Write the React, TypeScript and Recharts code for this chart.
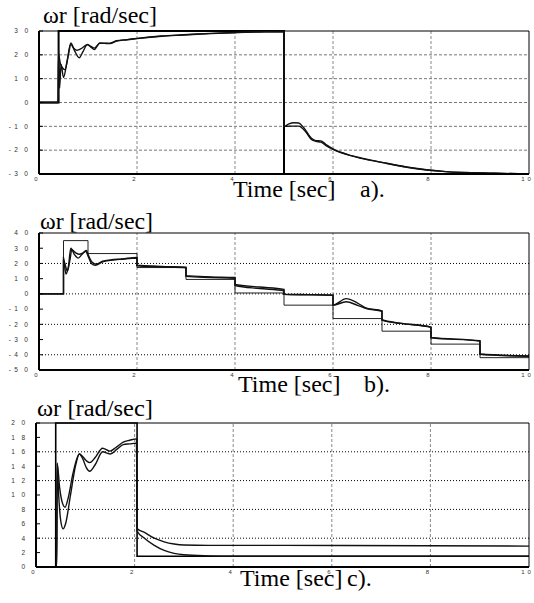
import React from "react";
import { LineChart, Line, XAxis, YAxis, ReferenceLine } from "recharts";

// shared time axis
const timeTicks = [0, 2, 4, 6, 8, 10];
const timeGrid = [2, 4, 6, 8];

// a) speed reversal
const aTicks = [-30, -20, -10, 0, 10, 20, 30];
const aGrid = [-20, -10, 0, 10, 20];
const aRef = [
  { t: 0, w: 0 }, { t: 0.4, w: 0 }, { t: 0.4, w: 30 }, { t: 5.0, w: 30 },
  { t: 5.0, w: -30 }, { t: 10, w: -30 },
];
const aResp1 = [
  { t: 0, w: 0 }, { t: 0.39, w: 0 }, { t: 0.4, w: 22 }, { t: 0.42, w: 6 },
  { t: 0.45, w: 16 }, { t: 0.5, w: 10.5 }, { t: 0.57, w: 17 }, { t: 0.65, w: 25 },
  { t: 0.72, w: 22 }, { t: 0.82, w: 18.8 }, { t: 0.9, w: 21.5 }, { t: 0.99, w: 24.4 },
  { t: 1.06, w: 23.2 }, { t: 1.13, w: 22.2 }, { t: 1.24, w: 25 }, { t: 1.35, w: 24.8 },
  { t: 1.45, w: 24.7 }, { t: 1.58, w: 25.8 }, { t: 1.8, w: 26.3 }, { t: 2.0, w: 26.8 },
  { t: 2.5, w: 27.8 }, { t: 2.95, w: 28.3 }, { t: 3.5, w: 28.9 }, { t: 4.0, w: 29.3 },
  { t: 4.5, w: 29.6 }, { t: 5.0, w: 29.8 }, { t: 5.0, w: -10 }, { t: 5.15, w: -9.9 },
  { t: 5.3, w: -9.9 }, { t: 5.45, w: -12.5 }, { t: 5.56, w: -15.5 }, { t: 5.65, w: -16.3 },
  { t: 5.75, w: -16.6 }, { t: 5.85, w: -18 }, { t: 6.0, w: -19.7 }, { t: 6.4, w: -22.5 },
  { t: 6.75, w: -24.2 }, { t: 7.1, w: -25.6 }, { t: 7.57, w: -27.4 }, { t: 8.3, w: -29 },
  { t: 9.3, w: -29.7 }, { t: 10, w: -30 },
];
const aResp2 = [
  { t: 0, w: 0 }, { t: 0.39, w: 0 }, { t: 0.4, w: 20 }, { t: 0.44, w: 16 },
  { t: 0.53, w: 13.8 }, { t: 0.6, w: 20 }, { t: 0.65, w: 24.5 }, { t: 0.7, w: 23 },
  { t: 0.77, w: 21.9 }, { t: 0.85, w: 22.5 }, { t: 0.99, w: 24.2 }, { t: 1.06, w: 23.5 },
  { t: 1.13, w: 22.8 }, { t: 1.24, w: 24.8 }, { t: 1.35, w: 24.9 }, { t: 1.45, w: 24.9 },
  { t: 1.58, w: 25.9 }, { t: 1.8, w: 26.4 }, { t: 2.0, w: 26.9 }, { t: 2.5, w: 27.9 },
  { t: 2.95, w: 28.4 }, { t: 3.5, w: 29 }, { t: 4.0, w: 29.4 }, { t: 4.5, w: 29.7 },
  { t: 5.0, w: 29.8 }, { t: 5.0, w: -10 }, { t: 5.1, w: -9 }, { t: 5.2, w: -8.5 },
  { t: 5.3, w: -8.6 }, { t: 5.4, w: -10.5 }, { t: 5.56, w: -15 }, { t: 5.65, w: -16 },
  { t: 5.75, w: -16.1 }, { t: 5.85, w: -17.5 }, { t: 6.0, w: -19.5 }, { t: 6.4, w: -22.4 },
  { t: 6.75, w: -24.1 }, { t: 7.1, w: -25.5 }, { t: 7.57, w: -27.3 }, { t: 8.3, w: -29 },
  { t: 9.3, w: -29.7 }, { t: 10, w: -30 },
];

// b) staircase command
const bTicks = [-50, -40, -30, -20, -10, 0, 10, 20, 30, 40];
const bGrid = [-40, -20, 0, 20];
const bRef = [
  { t: 0, w: 0 }, { t: 0.5, w: 0 }, { t: 0.5, w: 35 }, { t: 1.0, w: 35 },
  { t: 1.0, w: 26.5 }, { t: 2.0, w: 26.5 }, { t: 2.0, w: 17.3 }, { t: 3.0, w: 17.3 },
  { t: 3.0, w: 9.5 }, { t: 4.0, w: 9.5 }, { t: 4.0, w: 0.6 }, { t: 5.0, w: 0.6 },
  { t: 5.0, w: -7.4 }, { t: 6.0, w: -7.4 }, { t: 6.0, w: -16.2 }, { t: 7.0, w: -16.2 },
  { t: 7.0, w: -24.5 }, { t: 8.0, w: -24.5 }, { t: 8.0, w: -33 }, { t: 9.0, w: -33 },
  { t: 9.0, w: -41.9 }, { t: 10, w: -41.9 },
];
const bResp1 = [
  { t: 0, w: 0 }, { t: 0.5, w: 0 }, { t: 0.5, w: 24 }, { t: 0.55, w: 13 },
  { t: 0.6, w: 18 }, { t: 0.65, w: 30 }, { t: 0.72, w: 26 }, { t: 0.8, w: 23.5 },
  { t: 0.88, w: 26 }, { t: 0.95, w: 28 }, { t: 1.0, w: 25 }, { t: 1.07, w: 20 },
  { t: 1.15, w: 18.8 }, { t: 1.3, w: 21 }, { t: 1.46, w: 22 }, { t: 1.7, w: 22.8 },
  { t: 2.0, w: 23.5 }, { t: 2.0, w: 18.5 }, { t: 2.5, w: 17.8 }, { t: 3.0, w: 17.2 },
  { t: 3.0, w: 11.5 }, { t: 3.5, w: 10.8 }, { t: 4.0, w: 10.3 }, { t: 4.0, w: 5.5 },
  { t: 4.5, w: 3.5 }, { t: 5.0, w: 2 }, { t: 5.0, w: -0.3 }, { t: 5.5, w: -0.6 },
  { t: 6.0, w: -0.9 }, { t: 6.0, w: -7.4 }, { t: 6.27, w: -5.2 }, { t: 6.5, w: -7.5 },
  { t: 6.68, w: -9.6 }, { t: 7.0, w: -11.4 }, { t: 7.0, w: -17.2 }, { t: 7.37, w: -19.4 },
  { t: 8.0, w: -22 }, { t: 8.0, w: -28.8 }, { t: 9.0, w: -31 }, { t: 9.0, w: -39.7 },
  { t: 10, w: -41 },
];
const bResp2 = [
  { t: 0, w: 0 }, { t: 0.5, w: 0 }, { t: 0.5, w: 22 }, { t: 0.58, w: 15 },
  { t: 0.63, w: 22 }, { t: 0.67, w: 29 }, { t: 0.75, w: 27 }, { t: 0.82, w: 26 },
  { t: 0.9, w: 27 }, { t: 0.97, w: 28.5 }, { t: 1.0, w: 26 }, { t: 1.08, w: 21 },
  { t: 1.17, w: 19.5 }, { t: 1.3, w: 21.5 }, { t: 1.46, w: 22.3 }, { t: 1.7, w: 23 },
  { t: 2.0, w: 24 }, { t: 2.0, w: 18.8 }, { t: 2.5, w: 18 }, { t: 3.0, w: 17.5 },
  { t: 3.0, w: 12 }, { t: 3.5, w: 11.2 }, { t: 4.0, w: 10.8 }, { t: 4.0, w: 6.2 },
  { t: 4.5, w: 4.5 }, { t: 5.0, w: 3 }, { t: 5.0, w: -0.2 }, { t: 5.5, w: -0.5 },
  { t: 6.0, w: -0.8 }, { t: 6.0, w: -7.4 }, { t: 6.27, w: -3.1 }, { t: 6.5, w: -6 },
  { t: 6.68, w: -9.3 }, { t: 7.0, w: -11.2 }, { t: 7.0, w: -17 }, { t: 7.37, w: -19.2 },
  { t: 8.0, w: -21.8 }, { t: 8.0, w: -28.6 }, { t: 9.0, w: -30.8 }, { t: 9.0, w: -39.5 },
  { t: 10, w: -40.8 },
];

// c) start and load step
const cTicks = [0, 2, 4, 6, 8, 10, 12, 14, 16, 18, 20];
const cGrid = [4, 8, 12, 16];
const cRef = [
  { t: 0, w: 0 }, { t: 0.4, w: 0 }, { t: 0.4, w: 20 }, { t: 2.05, w: 20 },
  { t: 2.05, w: 1.5 }, { t: 10, w: 1.5 },
];
const cResp1 = [
  { t: 0, w: 0 }, { t: 0.42, w: 0 }, { t: 0.43, w: 14.4 }, { t: 0.46, w: 10 },
  { t: 0.5, w: 6.5 }, { t: 0.55, w: 5.3 }, { t: 0.6, w: 6 }, { t: 0.7, w: 10 },
  { t: 0.8, w: 14 }, { t: 0.88, w: 15.7 }, { t: 0.95, w: 15 }, { t: 1.02, w: 13.8 },
  { t: 1.09, w: 13.3 }, { t: 1.2, w: 14.2 }, { t: 1.35, w: 16 }, { t: 1.5, w: 15.7 },
  { t: 1.65, w: 16.4 }, { t: 1.77, w: 17 }, { t: 1.9, w: 17.1 }, { t: 2.04, w: 17.2 },
  { t: 2.05, w: 5.0 }, { t: 2.2, w: 4.0 }, { t: 2.4, w: 3.0 }, { t: 2.6, w: 2.3 },
  { t: 2.8, w: 1.9 }, { t: 3.0, w: 1.7 }, { t: 3.5, w: 1.55 }, { t: 4, w: 1.5 },
  { t: 10, w: 1.5 },
];
const cResp2 = [
  { t: 0, w: 0 }, { t: 0.42, w: 0 }, { t: 0.43, w: 14.4 }, { t: 0.48, w: 11 },
  { t: 0.54, w: 8.8 }, { t: 0.59, w: 8.3 }, { t: 0.65, w: 9.5 }, { t: 0.75, w: 13 },
  { t: 0.88, w: 15.7 }, { t: 0.95, w: 15.3 }, { t: 1.03, w: 14.7 }, { t: 1.09, w: 14.5 },
  { t: 1.2, w: 15.2 }, { t: 1.35, w: 16.5 }, { t: 1.5, w: 16.1 }, { t: 1.62, w: 16.6 },
  { t: 1.77, w: 17.35 }, { t: 1.9, w: 17.6 }, { t: 2.04, w: 17.8 }, { t: 2.05, w: 5.35 },
  { t: 2.2, w: 4.8 }, { t: 2.4, w: 4.0 }, { t: 2.6, w: 3.5 }, { t: 2.8, w: 3.2 },
  { t: 3.0, w: 3.05 }, { t: 3.5, w: 3.0 }, { t: 5, w: 3.0 }, { t: 10, w: 2.9 },
];

// the old plotting software spaced out every character of a tick label
const spacedY = (v: number) =>
  String(v)
    .split("")
    .map((c, i, all) => (i === 0 ? c : (all[i - 1] === "-" ? "\u2002" : "\u2003") + c))
    .join("");
const spacedX = (v: number) => String(v).split("").join("\u2002");

const sans = "Liberation Sans, Arial, sans-serif";
const yTickFont = { fontSize: 6.5, fill: "#333", fontFamily: sans };
const xTickFont = { fontSize: 6, fill: "#333", fontFamily: sans, dx: -3 };

type Pt = { t: number; w: number };
type Series = { data: Pt[]; width: number; color: string; curve: "linear" | "monotone" };

interface PanelProps {
  top: number;
  height: number;
  margin: { top: number; right: number; bottom: number; left: number };
  yDomain: [number, number];
  yTicks: number[];
  hGrid: number[];
  hDash: string;
  hColor: string;
  series: Series[];
}

function Panel({ top, height, margin, yDomain, yTicks, hGrid, hDash, hColor, series }: PanelProps) {
  return (
    <div style={{ position: "absolute", left: 0, top }}>
      <LineChart width={534} height={height} margin={margin}>
        <XAxis
          type="number"
          dataKey="t"
          domain={[0, 10]}
          ticks={timeTicks}
          tickFormatter={spacedX}
          tickLine={false}
          tickSize={0}
          tickMargin={3}
          height={12}
          stroke="#000"
          axisLine={{ strokeWidth: 2 }}
          tick={xTickFont}
        />
        <YAxis
          type="number"
          domain={yDomain}
          ticks={yTicks}
          tickFormatter={spacedY}
          width={31}
          stroke="#000"
          axisLine={{ strokeWidth: 2 }}
          tickLine={{ strokeWidth: 1 }}
          tickSize={-4}
          tickMargin={15}
          tick={yTickFont}
        />
        <YAxis
          yAxisId="r"
          orientation="right"
          type="number"
          domain={yDomain}
          ticks={yTicks}
          width={1}
          stroke="#000"
          tickSize={-3}
          tick={false}
        />
        {hGrid.map((v) => (
          <ReferenceLine key={`h${v}`} y={v} stroke={hColor} strokeDasharray={hDash} />
        ))}
        {timeGrid.map((v) => (
          <ReferenceLine key={`v${v}`} x={v} stroke="#888" strokeDasharray="3 2" />
        ))}
        <ReferenceLine y={yDomain[1]} stroke="#000" />
        {series.map((s, i) => (
          <Line
            key={i}
            data={s.data}
            dataKey="w"
            type={s.curve}
            dot={false}
            activeDot={false}
            stroke={s.color}
            strokeWidth={s.width}
            isAnimationActive={false}
          />
        ))}
      </LineChart>
    </div>
  );
}

const serif = "Liberation Serif, Times New Roman, serif";

export default function App() {
  return (
    <div style={{ position: "absolute", left: 0, top: 0, width: 534, height: 603, background: "#fff" }}>
      <Panel
        top={0}
        height={200}
        margin={{ top: 31, right: 4, bottom: 14, left: 8 }}
        yDomain={[-30, 30]}
        yTicks={aTicks}
        hGrid={aGrid}
        hDash="3 2"
        hColor="#777"
        series={[
          { data: aRef, width: 2, color: "#000", curve: "linear" },
          { data: aResp1, width: 1.4, color: "#111", curve: "monotone" },
          { data: aResp2, width: 1.4, color: "#111", curve: "monotone" },
        ]}
      />
      <Panel
        top={200}
        height={200}
        margin={{ top: 33, right: 4, bottom: 18, left: 8 }}
        yDomain={[-50, 40]}
        yTicks={bTicks}
        hGrid={bGrid}
        hDash="1 2"
        hColor="#000"
        series={[
          { data: bRef, width: 1, color: "#222", curve: "linear" },
          { data: bResp1, width: 1.4, color: "#111", curve: "monotone" },
          { data: bResp2, width: 1.4, color: "#111", curve: "monotone" },
        ]}
      />
      <Panel
        top={400}
        height={203}
        margin={{ top: 23, right: 4, bottom: 24, left: 5 }}
        yDomain={[0, 20]}
        yTicks={cTicks}
        hGrid={cGrid}
        hDash="1 2"
        hColor="#000"
        series={[
          { data: cRef, width: 1.6, color: "#000", curve: "linear" },
          { data: cResp1, width: 1.4, color: "#111", curve: "monotone" },
          { data: cResp2, width: 1.4, color: "#111", curve: "monotone" },
        ]}
      />
      <svg width={534} height={603} style={{ position: "absolute", left: 0, top: 0, pointerEvents: "none" }}>
        <g fontFamily={serif} fill="#000">
          <text x={43} y={23} fontSize={23} textLength={114} lengthAdjust="spacingAndGlyphs">ωr [rad/sec]</text>
          <text x={40} y={229} fontSize={23} textLength={113} lengthAdjust="spacingAndGlyphs">ωr [rad/sec]</text>
          <text x={37} y={416} fontSize={23} textLength={116} lengthAdjust="spacingAndGlyphs">ωr [rad/sec]</text>
          <text x={233} y={197} fontSize={24}>Time [sec]</text>
          <text x={360} y={197} fontSize={24}>a).</text>
          <text x={238} y={392} fontSize={24}>Time [sec]</text>
          <text x={364} y={392} fontSize={24}>b).</text>
          <text x={240} y={586} fontSize={24}>Time [sec]</text>
          <text x={347} y={586} fontSize={24}>c).</text>
        </g>
      </svg>
    </div>
  );
}
